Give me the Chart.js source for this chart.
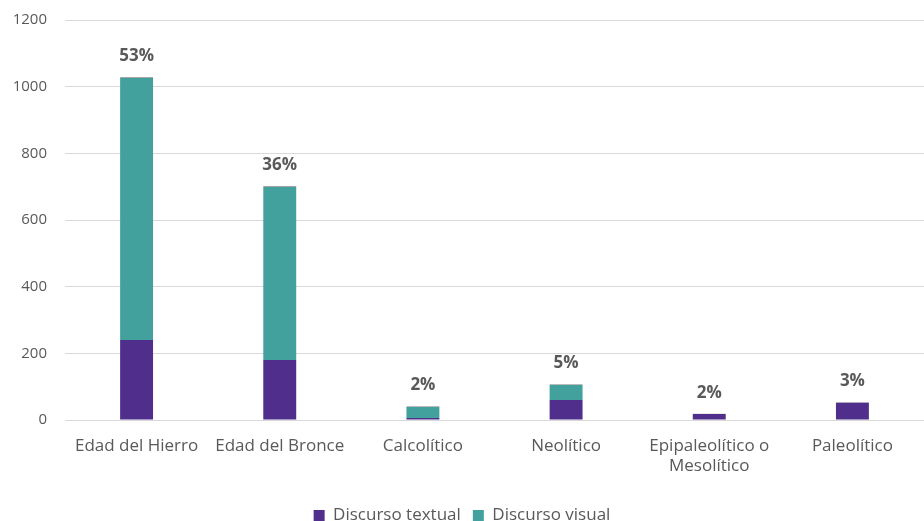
<!DOCTYPE html>
<html>
<head>
<meta charset="utf-8">
<script src="https://cdn.jsdelivr.net/npm/chart.js@4.4.0/dist/chart.umd.min.js"></script>
<style>
  html, body { margin: 0; padding: 0; background: #fff; }
  #wrap { width: 924px; height: 521px; }
</style>
</head>
<body>
<div id="wrap"><canvas id="periodChart" width="924" height="521"></canvas></div>
<script>
// Datos
const categories = ['Edad del Hierro', 'Edad del Bronce', 'Calcolítico', 'Neolítico', ['Epipaleolítico o', 'Mesolítico'], 'Paleolítico'];
const discursoTextual = [240, 180, 6, 60, 18, 52];
const discursoVisual = [786, 519, 33, 45, 0, 0];
const totalCap = [3, 3, 2, 2, 1, 1];
const percentLabels = ['53%', '36%', '2%', '5%', '2%', '3%'];
const yTicks = [0, 200, 400, 600, 800, 1000, 1200];

const textColor = '#595959';
const fontFamily = "'Open Sans', 'Liberation Sans', sans-serif";

// Plugin para los porcentajes encima de cada columna
const percentPlugin = {
    id: 'percentLabels',
    afterDatasetsDraw(chart) {
        const ctx = chart.ctx;
        const meta = chart.getDatasetMeta(2);
        ctx.save();
        ctx.font = 'bold 17px ' + fontFamily;
        ctx.fillStyle = textColor;
        ctx.textAlign = 'center';
        ctx.textBaseline = 'middle';
        meta.data.forEach((bar, i) => {
            ctx.fillText(percentLabels[i], bar.x, bar.y - 21);
        });
        ctx.restore();
    }
};

const ctx = document.getElementById('periodChart').getContext('2d');
new Chart(ctx, {
    type: 'bar',
    data: {
        labels: categories,
        datasets: [
            { label: 'Discurso textual', data: discursoTextual, backgroundColor: '#4F2F8B' },
            { label: 'Discurso visual', data: discursoVisual, backgroundColor: '#43A19D' },
            { label: 'Total', data: totalCap, backgroundColor: '#A5A5A5' }
        ]
    },
    options: {
        responsive: false,
        animation: false,
        layout: { padding: { top: 20, right: 0, left: 0, bottom: -13 } },
        datasets: { bar: { categoryPercentage: 1, barPercentage: 0.23 } },
        plugins: {
            tooltip: { enabled: false },
            legend: {
                position: 'bottom',
                labels: {
                    filter: item => item.datasetIndex < 2,
                    boxWidth: 11,
                    boxHeight: 11,
                    padding: 12,
                    color: textColor,
                    font: { family: fontFamily, size: 17 }
                }
            }
        },
        scales: {
            x: {
                stacked: true,
                grid: { display: false },
                border: { color: '#d9d9d9' },
                ticks: {
                    color: textColor,
                    font: { family: fontFamily, size: 17 },
                    maxRotation: 0,
                    autoSkip: false,
                    padding: 8
                },
                afterFit: s => { s.height = 75; s.paddingLeft = 0; s.paddingRight = 0; }
            },
            y: {
                stacked: true,
                min: 0,
                max: 1200,
                afterBuildTicks: s => { s.ticks = yTicks.map(v => ({ value: v })); },
                grid: { color: '#d9d9d9', drawTicks: false },
                border: { display: false },
                ticks: {
                    color: textColor,
                    font: { family: fontFamily, size: 15 },
                    padding: 18,
                    callback: v => String(v)
                },
                afterFit: s => { s.width = 65; s.paddingTop = 0; s.paddingBottom = 0; }
            }
        }
    },
    plugins: [percentPlugin]
});
</script>
</body>
</html>
